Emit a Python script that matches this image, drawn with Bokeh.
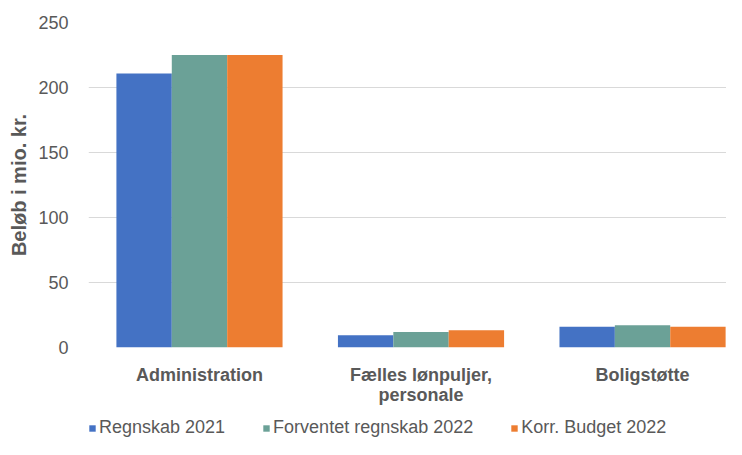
from bokeh.plotting import figure
from bokeh.layouts import column
from bokeh.models import ColumnDataSource, Range1d, FixedTicker, Legend, LegendItem
from bokeh.transform import dodge
from bokeh.embed import file_html
from bokeh.resources import INLINE

categories = ["Administration", "Fælles lønpuljer,\npersonale", "Boligstøtte"]
series_names = ["Regnskab 2021", "Forventet regnskab 2022", "Korr. Budget 2022"]
regnskab_2021 = [210.7, 9.5, 15.9]
forventet_2022 = [225.0, 12.0, 17.2]
korr_budget_2022 = [225.0, 13.3, 15.9]
y_ticks = [0, 50, 100, 150, 200, 250]
colors = ["#4472C4", "#6BA197", "#ED7D31"]

FONT = "Liberation Sans"
TXT = "#595959"
W = 726

x = list(range(len(categories)))
source = ColumnDataSource(dict(x=x, s0=regnskab_2021, s1=forventet_2022, s2=korr_budget_2022))
series_cols = ["s0", "s1", "s2"]

p = figure(width=W, height=407, output_backend="svg", toolbar_location=None,
           x_range=Range1d(-0.501, 2.379), y_range=Range1d(0, 250),
           min_border_left=88, min_border_right=0, min_border_top=22, min_border_bottom=60)
p.outline_line_color = None
p.background_fill_color = "white"
p.border_fill_color = "white"

bw = 0.25
offsets = [-bw, 0.0, bw]
for i, col in enumerate(series_cols):
    p.vbar(x=dodge("x", offsets[i], range=p.x_range), top=col, width=bw,
           source=source, fill_color=colors[i], line_color=None)

# grid
p.xgrid.visible = False
p.ygrid.grid_line_color = "#D9D9D9"
p.ygrid.grid_line_width = 1

# y axis
p.yaxis.ticker = FixedTicker(ticks=y_ticks)
p.yaxis.axis_line_color = None
p.yaxis.major_tick_line_color = None
p.yaxis.minor_tick_line_color = None
p.yaxis.major_tick_out = 0
p.yaxis.major_tick_in = 0
p.yaxis.major_label_standoff = 20
p.yaxis.major_label_text_font = FONT
p.yaxis.major_label_text_font_size = "18px"
p.yaxis.major_label_text_color = TXT
p.yaxis.axis_label = "Beløb i mio. kr."
p.yaxis.axis_label_text_font = FONT
p.yaxis.axis_label_text_font_size = "20px"
p.yaxis.axis_label_text_font_style = "bold"
p.yaxis.axis_label_text_color = TXT
p.yaxis.axis_label_standoff = 5

# x axis
p.xaxis.ticker = FixedTicker(ticks=x)
p.xaxis.major_label_overrides = {i: c for i, c in zip(x, categories)}
p.xaxis.axis_line_color = None
p.xaxis.major_tick_line_color = None
p.xaxis.minor_tick_line_color = None
p.xaxis.major_tick_out = 0
p.xaxis.major_tick_in = 0
p.xaxis.major_label_standoff = 17
p.xaxis.major_label_text_font = FONT
p.xaxis.major_label_text_font_size = "18px"
p.xaxis.major_label_text_font_style = "bold"
p.xaxis.major_label_text_color = TXT
p.xaxis.major_label_text_line_height = 1.0

# legend strip (separate figure below the chart); its renderers are hidden,
# only their legend swatches are shown
lg = figure(width=W, height=32, output_backend="svg", toolbar_location=None,
            x_axis_location=None, y_axis_location=None,
            x_range=Range1d(0, W), y_range=Range1d(0, 32),
            min_border=0, min_border_left=0, min_border_right=0,
            min_border_top=0, min_border_bottom=0)
lg.outline_line_color = None
lg.grid.visible = False
items = []
for i, (name, col) in enumerate(zip(series_names, series_cols)):
    r = lg.vbar(x="x", top=col, width=bw, source=source,
                fill_color=colors[i], line_color=None, visible=False)
    items.append(LegendItem(label=name, renderers=[r]))
legend = Legend(items=items, orientation="horizontal", location=(0, 1),
                glyph_width=8, glyph_height=8, label_standoff=3, spacing=37,
                label_height=20, padding=0, margin=0, border_line_color=None,
                background_fill_alpha=0, inactive_fill_alpha=0,
                label_text_font=FONT, label_text_font_size="18px", label_text_color=TXT)
lg.add_layout(legend)

layout = column(p, lg, spacing=0)
open("out.html", "w").write(file_html(layout, INLINE))
